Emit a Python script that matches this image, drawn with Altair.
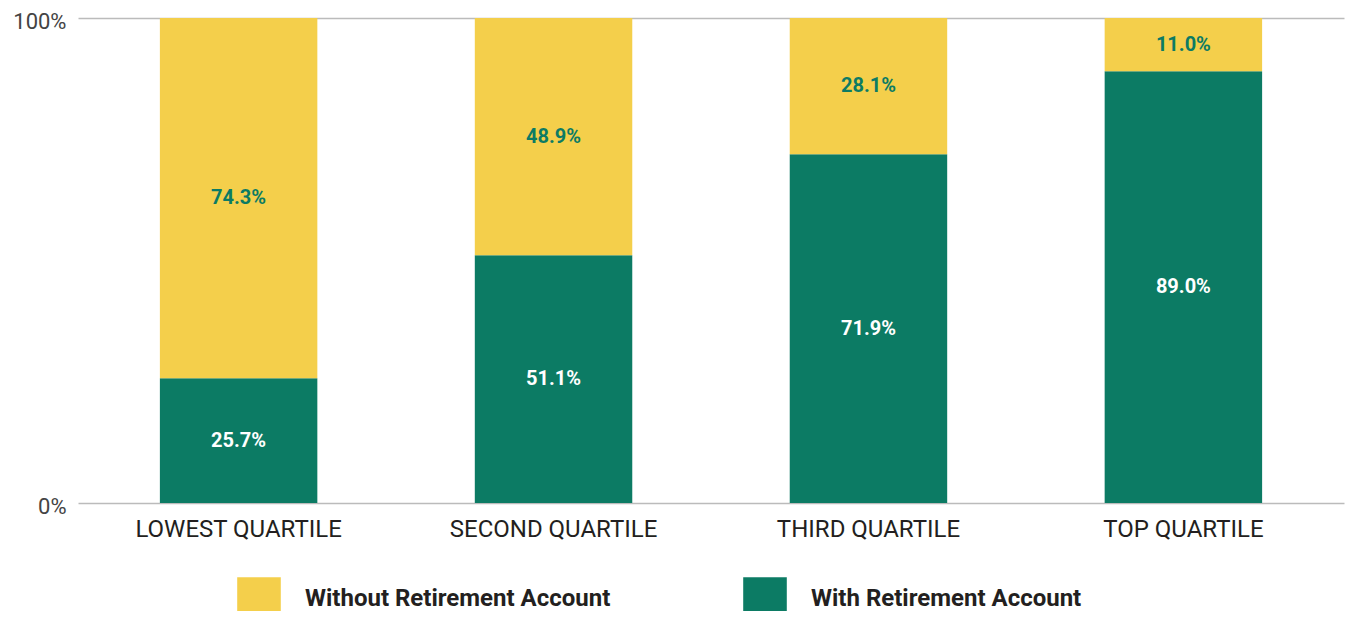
import altair as alt
import pandas as pd

quartiles = ["LOWEST QUARTILE", "SECOND QUARTILE", "THIRD QUARTILE", "TOP QUARTILE"]
with_account = [25.7, 51.1, 71.9, 89.0]
without_account = [74.3, 48.9, 28.1, 11.0]
series = ["Without Retirement Account", "With Retirement Account"]
colors = ["#F4CF4B", "#0C7B64"]
text_colors = ["#0C7B64", "#FFFFFF"]

rows = []
for q, w, wo in zip(quartiles, with_account, without_account):
    rows.append({"quartile": q, "series": series[1], "value": w / 100, "order": 0})
    rows.append({"quartile": q, "series": series[0], "value": wo / 100, "order": 1})
df = pd.DataFrame(rows)

FONT = "Roboto"

x_enc = alt.X(
    "quartile:N",
    sort=quartiles,
    title=None,
    scale=alt.Scale(paddingInner=0.5, paddingOuter=0.26),
    axis=alt.Axis(labelAngle=0, labelFontSize=24, labelColor="#231F20", labelFont=FONT,
                  domain=False, ticks=False, labelPadding=14, labelLimit=0),
)

base = alt.Chart(df).transform_stack(
    stack="value", as_=["y0", "y1"], groupby=["quartile"], sort=[alt.SortField("order")]
)

bars = base.mark_bar().encode(
    x=x_enc,
    y=alt.Y("y0:Q", title=None,
            scale=alt.Scale(domain=[0, 1], nice=False),
            axis=alt.Axis(values=[0, 1], format=".0%", labelFontSize=22, labelColor="#444444",
                          labelFont=FONT, grid=True, gridColor="#BBBBBB", gridWidth=1.5,
                          domain=False, ticks=False, labelPadding=12, labelOffset=3)),
    y2="y1:Q",
    color=alt.Color("series:N", scale=alt.Scale(domain=series, range=colors),
                    legend=alt.Legend(title=None, orient="none", direction="horizontal",
                                      legendX=159, legendY=559,
                                      symbolType="square", symbolSize=1900,
                                      symbolStrokeWidth=0, symbolOpacity=1,
                                      labelFontSize=24, labelFontWeight="bold",
                                      labelFont=FONT, labelColor="#231F20",
                                      labelOffset=24, columnPadding=132, labelLimit=500)),
)

labels = base.transform_calculate(
    mid="(datum.y0 + datum.y1) / 2",
    label="format(datum.value * 100, '.1f') + '%'",
).mark_text(fontSize=20, fontWeight="bold", font=FONT).encode(
    x=alt.X("quartile:N", sort=quartiles),
    y="mid:Q",
    text="label:N",
    color=alt.Color("series:N", scale=alt.Scale(domain=series, range=text_colors), legend=None),
)

chart = alt.layer(bars, labels).resolve_scale(color="independent").properties(
    width=1266, height=485,
    autosize=alt.AutoSizeParams(type="none"),
    padding={"left": 70, "top": 10, "right": 11, "bottom": 108},
).configure_view(stroke=None)

chart.save("out.html", embed_options={"renderer": "svg", "actions": False})
